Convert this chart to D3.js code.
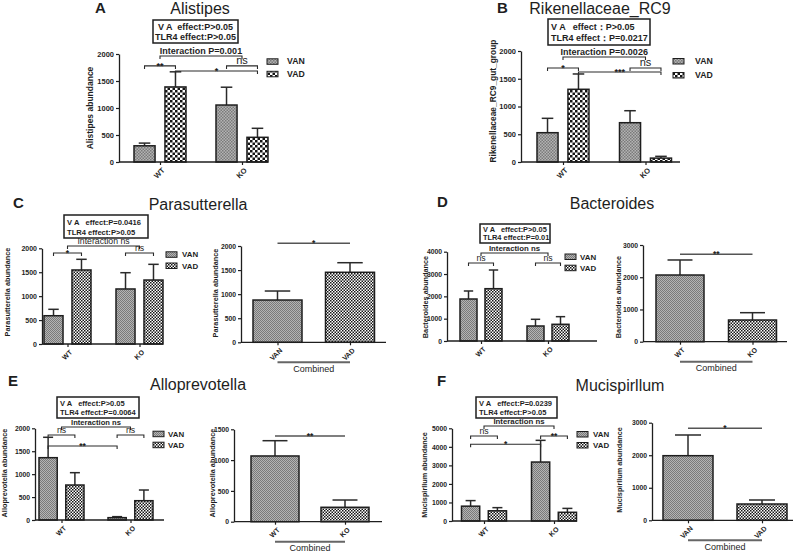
<!DOCTYPE html>
<html><head><meta charset="utf-8">
<script src="https://cdn.jsdelivr.net/npm/d3@7"></script>
<style>
html,body{margin:0;padding:0;background:#fff;}
svg{display:block;}
text{font-family:"Liberation Sans",Arial,sans-serif;fill:#1e1e1e;}
</style></head>
<body><svg id="c" width="800" height="552"></svg>
<script>
// ---------------- DATA ----------------
const groups = ["WT", "KO"];
const series = ["VAN", "VAD"];

const ticks2000 = [0, 500, 1000, 1500, 2000];
const ticks4000 = [0, 1000, 2000, 3000, 4000];
const ticks3000 = [0, 1000, 2000, 3000];
const ticks1500 = [0, 500, 1000, 1500];
const ticks5000 = [0, 1000, 2000, 3000, 4000, 5000];

// A: Alistipes (WT, KO)
const alistipesVAN = [300, 1055];
const alistipesVANsem = [50, 330];
const alistipesVAD = [1390, 457];
const alistipesVADsem = [280, 167];
const alistipesStats = ["V A  effect:P>0.05", "TLR4 effect:P>0.05"];
const alistipesInteraction = "Interaction P=0.001";
const alistipesBrackets = [
  {from: ["WT", "VAN"], to: ["WT", "VAD"], label: "**", level: 1780},
  {from: ["WT", "VAD"], to: ["KO", "VAD"], label: "*", level: 1685},
  {from: ["KO", "VAN"], to: ["KO", "VAD"], label: "ns", level: 1780}
];

// B: Rikenellaceae_RC9
const rikenVAN = [528, 708];
const rikenVANsem = [259, 216];
const rikenVAD = [1310, 70];
const rikenVADsem = [276, 32];
const rikenStats = ["V A   effect：P>0.05", "TLR4 effect：P=0.0217"];
const rikenInteraction = "Interaction P=0.0026";
const rikenBrackets = [
  {from: ["WT", "VAN"], to: ["WT", "VAD"], label: "*", level: 1694},
  {from: ["WT", "VAD"], to: ["KO", "VAD"], label: "***", level: 1622},
  {from: ["KO", "VAN"], to: ["KO", "VAD"], label: "ns", level: 1694}
];

// C: Parasutterella
const paraVAN = [591, 1150];
const paraVANsem = [134, 340];
const paraVAD = [1547, 1337];
const paraVADsem = [223, 328];
const paraStats = ["V A   effect:P=0.0416", "TLR4 effect:P>0.05"];
const paraInteraction = "Interaction ns";
const paraBrackets = [
  {from: ["WT", "VAN"], to: ["WT", "VAD"], label: "*", level: 1902},
  {from: ["KO", "VAN"], to: ["KO", "VAD"], label: "ns", level: 1902}
];
const paraCombCats = ["VAN", "VAD"];
const paraComb = [878, 1454];
const paraCombSem = [187, 199];
const paraCombSig = "*";
const paraCombLevel = 2057;

// D: Bacteroides
const bactVAN = [1881, 672];
const bactVANsem = [359, 300];
const bactVAD = [2343, 748];
const bactVADsem = [837, 342];
const bactStats = ["V A   effect:P>0.05", "TLR4 effect:P=0.01"];
const bactInteraction = "Interaction ns";
const bactBrackets = [
  {from: ["WT", "VAN"], to: ["WT", "VAD"], label: "ns", level: 3494},
  {from: ["KO", "VAN"], to: ["KO", "VAD"], label: "ns", level: 3494}
];
const bactCombCats = ["WT", "KO"];
const bactComb = [2069, 673];
const bactCombSem = [466, 227];
const bactCombSig = "**";
const bactCombLevel = 2712;

// E: Alloprevotella
const alloVAN = [1359, 51];
const alloVANsem = [445, 22];
const alloVAD = [763, 421];
const alloVADsem = [269, 233];
const alloStats = ["V A   effect:P>0.05", "TLR4 effect:P=0.0064"];
const alloInteraction = "Interaction ns";
const alloBrackets = [
  {from: ["WT", "VAN"], to: ["WT", "VAD"], label: "ns", level: 1854},
  {from: ["KO", "VAN"], to: ["KO", "VAD"], label: "ns", level: 1854},
  {from: ["WT", "VAN"], to: ["KO", "VAN"], label: "**", level: 1614}
];
const alloCombCats = ["WT", "KO"];
const alloComb = [1067, 234];
const alloCombSem = [248, 118];
const alloCombSig = "**";
const alloCombLevel = 1391;

// F: Mucispirllum
const mucVAN = [800, 3180];
const mucVANsem = [300, 1170];
const mucVAD = [550, 470];
const mucVADsem = [170, 210];
const mucStats = ["V A   effect:P=0.0239", "TLR4 effect:P>0.05"];
const mucInteraction = "Interaction ns";
const mucBrackets = [
  {from: ["WT", "VAN"], to: ["WT", "VAD"], label: "ns", level: 4585},
  {from: ["KO", "VAN"], to: ["KO", "VAD"], label: "**", level: 4585},
  {from: ["WT", "VAN"], to: ["KO", "VAN"], label: "*", level: 4137}
];
const mucCombCats = ["VAN", "VAD"];
const mucComb = [1986, 501];
const mucCombSem = [636, 123];
const mucCombSig = "*";
const mucCombLevel = 2828;

const combinedLabel = "Combined";

// ---------------- DRAWING ----------------
const svg = d3.select("#c");
const defs = svg.append("defs");
function checker(id, size, bg, fg) {
  const p = defs.append("pattern").attr("id", id).attr("patternUnits", "userSpaceOnUse")
    .attr("width", size * 2).attr("height", size * 2);
  p.append("rect").attr("width", size * 2).attr("height", size * 2).attr("fill", bg);
  p.append("rect").attr("width", size).attr("height", size).attr("fill", fg);
  p.append("rect").attr("x", size).attr("y", size).attr("width", size).attr("height", size).attr("fill", fg);
}
checker("vanL", 1.5, "#b4b4b4", "#7a7a7a");
checker("vanS", 1, "#b4b4b4", "#7a7a7a");
checker("vadL", 2.5, "#ffffff", "#141414");
checker("vadS", 1.5, "#ffffff", "#141414");

const INK = "#1e1e1e";
const fmt = d3.format("d");

function styleYAxis(ax, fs) {
  ax.attr("font-family", "Liberation Sans, Arial, sans-serif").attr("font-size", fs).attr("font-weight", "bold");
  ax.select(".domain").attr("stroke", INK).attr("stroke-width", 1.3);
  ax.selectAll(".tick line").attr("stroke", INK).attr("stroke-width", 1.2);
  ax.selectAll(".tick text").attr("fill", INK);
}

function xAxis(g, scale, x0, x1, y0, fs) {
  g.append("line").attr("x1", x0).attr("x2", x1).attr("y1", y0).attr("y2", y0)
    .attr("stroke", INK).attr("stroke-width", 1.3);
  const ax = g.append("g").attr("transform", `translate(0,${y0})`)
    .call(d3.axisBottom(scale).tickSize(3).tickSizeOuter(0));
  ax.select(".domain").remove();
  ax.attr("font-family", "Liberation Sans, Arial, sans-serif").attr("font-size", fs).attr("font-weight", "bold");
  ax.selectAll(".tick line").attr("stroke", INK).attr("stroke-width", 1.2);
  ax.selectAll(".tick text").attr("fill", INK).attr("x", 0).attr("y", 0).attr("dy", "0.35em")
    .attr("text-anchor", "end").attr("transform", "translate(3,7) rotate(-45)");
}

function yLabel(g, txt, x, y, fs) {
  g.append("text").attr("transform", `translate(${x},${y}) rotate(-90)`)
    .attr("text-anchor", "middle").attr("dy", "0.35em")
    .attr("font-size", fs).attr("font-weight", "bold").text(txt);
}

function errBars(g, cx, top, tip, cw) {
  g.append("line").attr("x1", cx).attr("x2", cx).attr("y1", top).attr("y2", tip)
    .attr("stroke", "#2a2a2a").attr("stroke-width", 1.5);
  g.append("line").attr("x1", cx - cw / 2).attr("x2", cx + cw / 2).attr("y1", tip).attr("y2", tip)
    .attr("stroke", "#2a2a2a").attr("stroke-width", 1.5);
}

function sigLabel(g, x, y, label, starFs, nsFs) {
  const isNs = label === "ns";
  g.append("text").attr("x", x).attr("y", isNs ? y - 1.5 : y + (starFs * 0.3))
    .attr("text-anchor", "middle").attr("font-size", isNs ? nsFs : starFs)
    .attr("font-weight", isNs ? "normal" : "bold").text(label);
}

function bracket(g, xa, xb, y, label, starFs, nsFs) {
  g.append("path").attr("d", `M${xa},${y + 3}V${y}H${xb}V${y + 3}`)
    .attr("fill", "none").attr("stroke", "#2a2a2a").attr("stroke-width", 1.1);
  if (label) sigLabel(g, (xa + xb) / 2, y, label, starFs, nsFs);
}

function header(p) {
  svg.append("text").attr("x", p.letterX).attr("y", p.letterY).attr("font-size", 15)
    .attr("font-weight", "bold").attr("fill", "#000").text(p.letter);
  svg.append("text").attr("x", p.titleX).attr("y", p.titleY).attr("text-anchor", "middle")
    .attr("font-family", "Open Sans, Noto Sans, sans-serif").attr("font-size", 16)
    .attr("fill", "#222").text(p.title);
}

function drawGrouped(p) {
  const g = svg.append("g");
  const max = p.ticks[p.ticks.length - 1];
  const y = d3.scaleLinear().domain([0, max]).range([p.y0, p.yTop]);
  const xg = d3.scalePoint().domain(groups).range([p.c0, p.c1]);
  const xs = d3.scaleBand().domain(series).range([-p.gw / 2, p.gw / 2]).paddingInner(0.32);
  const bw = xs.bandwidth();
  const bcx = (grp, s) => xg(grp) + xs(s) + bw / 2;
  const vals = {VAN: p.van, VAD: p.vad};
  const sems = {VAN: p.vanSem, VAD: p.vadSem};
  const pats = {VAN: p.big ? "url(#vanL)" : "url(#vanS)", VAD: p.big ? "url(#vadL)" : "url(#vadS)"};

  const rows = [];
  groups.forEach((grp, i) => series.forEach(s => rows.push({grp, s, v: vals[s][i], e: sems[s][i]})));

  rows.forEach(r => errBars(g, bcx(r.grp, r.s), y(r.v), y(r.v + r.e), bw * 0.55));
  g.selectAll("rect.bar").data(rows).join("rect").attr("class", "bar")
    .attr("x", d => xg(d.grp) + xs(d.s)).attr("width", bw)
    .attr("y", d => y(d.v)).attr("height", d => y(0) - y(d.v))
    .attr("fill", d => pats[d.s]).attr("stroke", INK).attr("stroke-width", 1.5);

  const ya = g.append("g").attr("transform", `translate(${p.x0},0)`)
    .call(d3.axisLeft(y).tickValues(p.ticks).tickFormat(fmt).tickSize(3).tickSizeOuter(0).tickPadding(2));
  styleYAxis(ya, p.tickFs);
  xAxis(g, xg, p.x0, p.x1, p.y0, p.xFs);
  yLabel(g, p.yLabel, p.yLabelX, p.yLabelY, p.yLabelFs);

  // stats box
  const [bx, by, bW, bH] = p.box;
  g.append("rect").attr("x", bx).attr("y", by).attr("width", bW).attr("height", bH)
    .attr("fill", "#fff").attr("stroke", INK).attr("stroke-width", 1.5);
  p.boxLines.forEach((t, i) => {
    g.append("text").attr("x", p.boxAnchor === "middle" ? bx + bW / 2 : bx + 3)
      .attr("y", by + bH * (i === 0 ? 0.42 : 0.86))
      .attr("text-anchor", p.boxAnchor).attr("font-size", p.boxFs).attr("font-weight", "bold")
      .style("white-space", "pre").text(t);
  });

  // interaction bracket
  const iy = y(p.interLevel);
  g.append("path").attr("d", `M${xg("WT")},${iy + 3}V${iy}H${xg("KO")}V${iy + 3}`)
    .attr("fill", "none").attr("stroke", "#2a2a2a").attr("stroke-width", 1.1);
  g.append("text").attr("x", (xg("WT") + xg("KO")) / 2).attr("y", iy - 1.8)
    .attr("text-anchor", "middle").attr("font-size", p.interFs)
    .attr("font-weight", p.interBold ? "bold" : "normal").text(p.inter);

  p.brackets.forEach(b => bracket(g, bcx(b.from[0], b.from[1]), bcx(b.to[0], b.to[1]), y(b.level), b.label, p.starFs, p.nsFs));

  // legend
  const [lx, ly] = p.legend;
  series.forEach((s, i) => {
    const base = ly + i * p.legendGap;
    g.append("rect").attr("x", lx).attr("y", base - 5.5).attr("width", 11).attr("height", 5.5)
      .attr("fill", pats[s]).attr("stroke", INK).attr("stroke-width", 1);
    g.append("text").attr("x", lx + p.legendTextDx).attr("y", base).attr("font-size", p.legendFs)
      .attr("font-weight", "bold").text(s);
  });
}

function drawCombined(p) {
  const g = svg.append("g");
  const max = p.ticks[p.ticks.length - 1];
  const y = d3.scaleLinear().domain([0, max]).range([p.y0, p.yTop]);
  const x = d3.scalePoint().domain(p.cats).range([p.c0, p.c1]);
  const pats = ["url(#vanS)", "url(#vadS)"];
  const rows = p.cats.map((c, i) => ({c, i, v: p.vals[i], e: p.sem[i]}));
  rows.forEach(r => errBars(g, x(r.c), y(r.v), y(r.v + r.e), p.bw * 0.52));
  g.selectAll("rect.bar").data(rows).join("rect").attr("class", "bar")
    .attr("x", d => x(d.c) - p.bw / 2).attr("width", p.bw)
    .attr("y", d => y(d.v)).attr("height", d => y(0) - y(d.v))
    .attr("fill", d => pats[d.i]).attr("stroke", INK).attr("stroke-width", 1.5);
  const ya = g.append("g").attr("transform", `translate(${p.x0},0)`)
    .call(d3.axisLeft(y).tickValues(p.ticks).tickFormat(fmt).tickSize(3).tickSizeOuter(0).tickPadding(2));
  styleYAxis(ya, p.tickFs);
  xAxis(g, x, p.x0, p.x1, p.y0, p.xFs);
  yLabel(g, p.yLabel, p.yLabelX, p.yLabelY, p.yLabelFs);
  // significance line
  const sy = y(p.level);
  g.append("line").attr("x1", x(p.cats[0])).attr("x2", x(p.cats[1])).attr("y1", sy).attr("y2", sy)
    .attr("stroke", "#555").attr("stroke-width", 1.6);
  g.append("text").attr("x", (x(p.cats[0]) + x(p.cats[1])) / 2).attr("y", sy + 2.6)
    .attr("text-anchor", "middle").attr("font-size", 8.5).attr("font-weight", "bold").attr("fill", "#444").text(p.sig);
  // combined underline
  g.append("line").attr("x1", x(p.cats[0])).attr("x2", x(p.cats[1])).attr("y1", p.y0 + 20).attr("y2", p.y0 + 20)
    .attr("stroke", "#666").attr("stroke-width", 2);
  g.append("text").attr("x", (x(p.cats[0]) + x(p.cats[1])) / 2).attr("y", p.y0 + 29.5)
    .attr("text-anchor", "middle").attr("font-size", 9).attr("fill", "#333").text(combinedLabel);
}

// ---------------- PANELS ----------------
const grouped = [
  {letter: "A", letterX: 95, letterY: 13, title: "Alistipes", titleX: 200, titleY: 14,
   yLabel: "Alistipes abundance", yLabelX: 90, yLabelY: 108, yLabelFs: 8.5,
   x0: 119, x1: 268, c0: 160, c1: 242, gw: 52, y0: 162, yTop: 54, ticks: ticks2000, tickFs: 7.5, xFs: 7.5,
   van: alistipesVAN, vanSem: alistipesVANsem, vad: alistipesVAD, vadSem: alistipesVADsem,
   box: [153, 20, 85, 23], boxLines: alistipesStats, boxFs: 9, boxAnchor: "middle",
   inter: alistipesInteraction, interLevel: 1963, interFs: 9, interBold: true,
   legend: [267, 64.3], legendGap: 12.5, legendTextDx: 20, legendFs: 8.7,
   brackets: alistipesBrackets, starFs: 9, nsFs: 11, big: true},
  {letter: "B", letterX: 497, letterY: 13, title: "Rikenellaceae_RC9", titleX: 600, titleY: 14,
   yLabel: "Rikenellaceae_RC9_gut_group", yLabelX: 493, yLabelY: 101, yLabelFs: 8.4,
   x0: 521, x1: 680, c0: 563, c1: 645.5, gw: 52, y0: 162, yTop: 51, ticks: ticks2000, tickFs: 7.5, xFs: 7.5,
   van: rikenVAN, vanSem: rikenVANsem, vad: rikenVAD, vadSem: rikenVADsem,
   box: [548, 19, 102, 26], boxLines: rikenStats, boxFs: 9, boxAnchor: "start",
   inter: rikenInteraction, interLevel: 1892, interFs: 9, interBold: true,
   legend: [673, 64], legendGap: 14, legendTextDx: 22, legendFs: 8.7,
   brackets: rikenBrackets, starFs: 9, nsFs: 11, big: true},
  {letter: "C", letterX: 13, letterY: 208, title: "Parasutterella", titleX: 198, titleY: 210,
   yLabel: "Parasutterella abundance", yLabelX: 7, yLabelY: 292, yLabelFs: 7.3,
   x0: 42, x1: 163, c0: 67.5, c1: 139.5, gw: 47, y0: 344, yTop: 248.3, ticks: ticks2000, tickFs: 7, xFs: 7,
   van: paraVAN, vanSem: paraVANsem, vad: paraVAD, vadSem: paraVADsem,
   box: [64, 215, 84, 23], boxLines: paraStats, boxFs: 7.6, boxAnchor: "start",
   inter: paraInteraction, interLevel: 2048, interFs: 8.7, interBold: false,
   legend: [166, 257.3], legendGap: 11.2, legendTextDx: 16, legendFs: 7.9,
   brackets: paraBrackets, starFs: 8.5, nsFs: 8.7, big: false},
  {letter: "D", letterX: 437, letterY: 207, title: "Bacteroides", titleX: 612, titleY: 209,
   yLabel: "Bacteroides abundance", yLabelX: 425, yLabelY: 297, yLabelFs: 7.3,
   x0: 447, x1: 597, c0: 481, c1: 548, gw: 42, y0: 341, yTop: 251.7, ticks: ticks4000, tickFs: 6.8, xFs: 7,
   van: bactVAN, vanSem: bactVANsem, vad: bactVAD, vadSem: bactVADsem,
   box: [480, 224, 70, 19], boxLines: bactStats, boxFs: 7.4, boxAnchor: "start",
   inter: bactInteraction, interLevel: 3942, interFs: 7.8, interBold: true,
   legend: [565, 259.5], legendGap: 11.2, legendTextDx: 15, legendFs: 7.9,
   brackets: bactBrackets, starFs: 8.5, nsFs: 8.7, big: false},
  {letter: "E", letterX: 8, letterY: 386, title: "Alloprevotella", titleX: 198, titleY: 390,
   yLabel: "Alloprevotella abundance", yLabelX: 4, yLabelY: 473, yLabelFs: 7.3,
   x0: 35, x1: 164, c0: 61.5, c1: 130.5, gw: 45, y0: 520, yTop: 428.3, ticks: ticks2000, tickFs: 6.8, xFs: 7,
   van: alloVAN, vanSem: alloVANsem, vad: alloVAD, vadSem: alloVADsem,
   box: [57, 397, 82, 21], boxLines: alloStats, boxFs: 7.5, boxAnchor: "start",
   inter: alloInteraction, interLevel: 2028, interFs: 7.6, interBold: true,
   legend: [153, 436.7], legendGap: 11, legendTextDx: 15, legendFs: 7.9,
   brackets: alloBrackets, starFs: 8.5, nsFs: 8.7, big: false},
  {letter: "F", letterX: 437, letterY: 386, title: "Mucispirllum", titleX: 620, titleY: 391,
   yLabel: "Mucispirllum abundance", yLabelX: 424, yLabelY: 475, yLabelFs: 7.3,
   x0: 452, x1: 577, c0: 484, c1: 554, gw: 45, y0: 521, yTop: 428.3, ticks: ticks5000, tickFs: 6.8, xFs: 7,
   van: mucVAN, vanSem: mucVANsem, vad: mucVAD, vadSem: mucVADsem,
   box: [476, 397, 81, 21], boxLines: mucStats, boxFs: 7.5, boxAnchor: "start",
   inter: mucInteraction, interLevel: 5124, interFs: 7.8, interBold: true,
   legend: [577, 437], legendGap: 11, legendTextDx: 16, legendFs: 7.9,
   brackets: mucBrackets, starFs: 8.5, nsFs: 8.7, big: false}
];

const combined = [
  {cats: paraCombCats, vals: paraComb, sem: paraCombSem, sig: paraCombSig, level: paraCombLevel,
   yLabel: "Parasutterella abundance", yLabelX: 215, yLabelY: 293, yLabelFs: 7.3,
   x0: 241, x1: 386, c0: 277.5, c1: 350, bw: 49, y0: 342.3, yTop: 246, ticks: ticks2000, tickFs: 6.8, xFs: 7},
  {cats: bactCombCats, vals: bactComb, sem: bactCombSem, sig: bactCombSig, level: bactCombLevel,
   yLabel: "Bacteroides abundance", yLabelX: 618, yLabelY: 297, yLabelFs: 7.3,
   x0: 643, x1: 787, c0: 680, c1: 752.5, bw: 48, y0: 341.7, yTop: 245, ticks: ticks3000, tickFs: 6.8, xFs: 7},
  {cats: alloCombCats, vals: alloComb, sem: alloCombSem, sig: alloCombSig, level: alloCombLevel,
   yLabel: "Alloprevotella abundance", yLabelX: 212, yLabelY: 473, yLabelFs: 7.3,
   x0: 234, x1: 382, c0: 275, c1: 345, bw: 48, y0: 521.7, yTop: 429.3, ticks: ticks1500, tickFs: 6.8, xFs: 7},
  {cats: mucCombCats, vals: mucComb, sem: mucCombSem, sig: mucCombSig, level: mucCombLevel,
   yLabel: "Mucispirllum abundance", yLabelX: 619, yLabelY: 470, yLabelFs: 7.3,
   x0: 652, x1: 793, c0: 688, c1: 762, bw: 50, y0: 520.3, yTop: 422.7, ticks: ticks3000, tickFs: 6.8, xFs: 7}
];

grouped.forEach(p => { header(p); drawGrouped(p); });
combined.forEach(drawCombined);
</script>
</body></html>
